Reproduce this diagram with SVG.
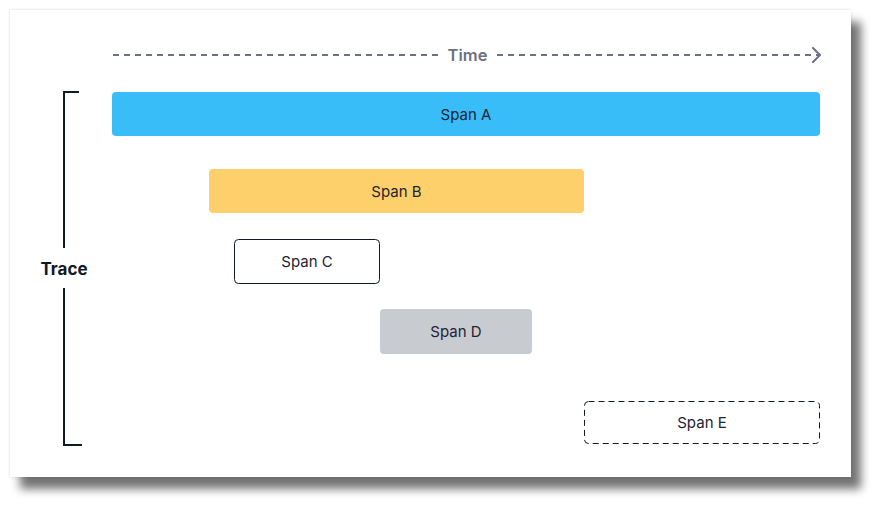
<svg xmlns="http://www.w3.org/2000/svg" width="881" height="507" viewBox="0 0 881 507">
<defs>
<filter id="sh" x="-5%" y="-5%" width="115%" height="125%">
<feGaussianBlur in="SourceAlpha" stdDeviation="1.5" result="b0"/>
<feComponentTransfer in="b0" result="s0"><feFuncA type="linear" slope="0.15"/></feComponentTransfer>
<feGaussianBlur in="SourceAlpha" stdDeviation="5" result="b1"/>
<feOffset in="b1" dx="10" dy="12" result="o1"/>
<feComponentTransfer in="o1" result="s1"><feFuncA type="linear" slope="0.55"/></feComponentTransfer>
<feMerge><feMergeNode in="s1"/><feMergeNode in="s0"/><feMergeNode in="SourceGraphic"/></feMerge>
</filter>
<marker id="chev" viewBox="0 0 10 16" refX="9" refY="8" markerWidth="10" markerHeight="16" markerUnits="userSpaceOnUse" orient="auto">
<path d="M2 1 L9 8 L2 15" fill="none" stroke="#6B7280" stroke-width="2" stroke-linecap="round" stroke-linejoin="round"/>
</marker>
</defs>
<style>
.lbl{font-family:Inter,"Liberation Sans",sans-serif;font-size:15px;fill:#1E2433;text-anchor:middle;dominant-baseline:central}
.axis{stroke:#6B7280;stroke-width:2;stroke-dasharray:6 5;fill:none}
.br{stroke:#111827;stroke-width:2;fill:none}
</style>
<rect x="10" y="10" width="841" height="467" fill="#FFFFFF" filter="url(#sh)"/>
<g id="time-axis">
<line class="axis" x1="113" y1="55" x2="443" y2="55"/>
<line class="axis" x1="497" y1="55" x2="820" y2="55" marker-end="url(#chev)"/>
<text x="467.5" y="61" font-family="Inter,'Liberation Sans',sans-serif" font-size="16.5" font-weight="600" fill="#6B7280" text-anchor="middle">Time</text>
</g>
<g id="trace">
<path class="br" d="M79 92 H64 V248"/>
<path class="br" d="M64 288 V445 H82"/>
<text x="64" y="275" font-family="Inter,'Liberation Sans',sans-serif" font-size="17" font-weight="700" fill="#111827" text-anchor="middle">Trace</text>
</g>
<g id="span-a">
<rect x="112" y="92" width="708" height="44" rx="4" fill="#38BDF8"/>
<text class="lbl" x="466" y="114">Span A</text>
</g>
<g id="span-b">
<rect x="209" y="169" width="375" height="44" rx="4" fill="#FDD06C"/>
<text class="lbl" x="396.5" y="191">Span B</text>
</g>
<g id="span-c">
<rect x="234.5" y="239.5" width="145" height="44" rx="4" fill="#FFFFFF" stroke="#111827" stroke-width="1"/>
<text class="lbl" x="307" y="261.5">Span C</text>
</g>
<g id="span-d">
<rect x="380" y="309" width="152" height="45" rx="4" fill="#C8CBD0"/>
<text class="lbl" x="456" y="331.5">Span D</text>
</g>
<g id="span-e">
<rect x="584.5" y="401.5" width="235" height="42" rx="4" fill="#FFFFFF" stroke="#111827" stroke-width="1" stroke-dasharray="6 4"/>
<text class="lbl" x="702" y="422.5">Span E</text>
</g>
</svg>
